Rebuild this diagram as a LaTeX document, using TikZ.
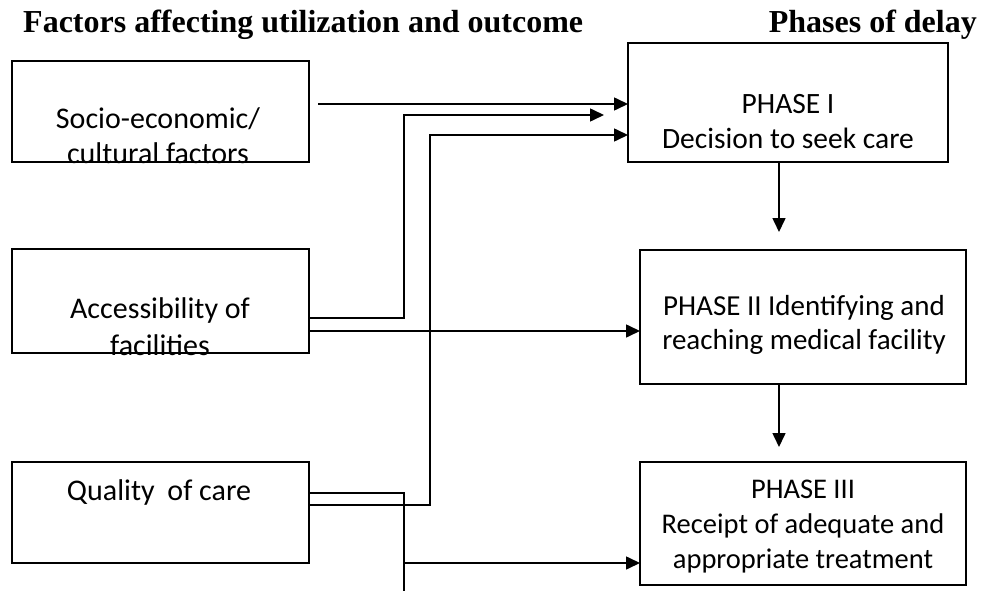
\documentclass[tikz,border=0pt]{standalone}
\usepackage{fontspec}
\setmainfont{Carlito}
\newfontfamily\titlefont{Liberation Serif}
\usetikzlibrary{arrows.meta}
\begin{document}
\begin{tikzpicture}[x=1pt,y=-1pt,
  box/.style={draw, line width=1.6pt, inner sep=0pt, outer sep=0pt, anchor=north west},
  txt/.style={align=center, anchor=base, inner sep=0pt},
  ttl/.style={font=\titlefont\bfseries\fontsize{32}{38}\selectfont, inner sep=0pt},
  conn/.style={line width=1.6pt},
  arr/.style={conn, -{Triangle[length=14pt,width=13pt]}}]
\useasboundingbox (0,0) rectangle (982,591);

% titles
\node[ttl, anchor=base west] (tl) at (23,33) {Factors affecting utilization and outcome};
\node[ttl, anchor=base east] (tr) at (977,33) {Phases of delay};

% left boxes
\node[box, minimum width=297pt, minimum height=101pt] (b1) at (12,61) {};
\node[box, minimum width=297pt, minimum height=104pt] (b2) at (12,249) {};
\node[box, minimum width=297pt, minimum height=101pt] (b3) at (12,462) {};

% right boxes
\node[box, minimum width=320pt, minimum height=119pt] (p1) at (628,43) {};
\node[box, minimum width=326pt, minimum height=134pt] (p2) at (640,250) {};
\node[box, minimum width=326pt, minimum height=123pt] (p3) at (640,462) {};

% texts (anchor = baseline of last line)
\node[txt, font=\fontsize{30}{35}\selectfont] (t1) at (158,163) {Socio-economic/\\cultural factors};
\node[txt, font=\fontsize{30}{37}\selectfont] (t2) at (160,355) {Accessibility of\\facilities};
\node[txt, font=\fontsize{30}{37}\selectfont] (t3) at (159,500) {Quality\hspace{0.2em} of care};
\node[txt, font=\fontsize{29.5}{35}\selectfont] (tp1) at (788,148) {PHASE I\\Decision to seek care};
\node[txt, font=\fontsize{29}{34}\selectfont] (tp2) at (804,349) {PHASE II Identifying and\\reaching medical facility};
\node[txt, font=\fontsize{28.5}{35}\selectfont] (tp3) at (803,568) {PHASE III\\Receipt of adequate and\\appropriate treatment};

% connectors
\coordinate (s1) at (318,104);
\coordinate (e2) at (604,115);
\coordinate (d5) at (404,591);
\coordinate (j5) at (404,563);
\coordinate (e6) at (779,232);
\coordinate (e7) at (779,447);

\draw[arr] (s1) -- (p1.west |- s1);
\draw[arr] (b2.east |- 0,318) -| (404,115) -- (e2);
\draw[arr] (b3.east |- 0,505) -| (430,135) -- (p1.west |- 0,135);
\draw[arr] (b2.east |- 0,331) -- (p2.west |- 0,331);
\draw[conn] (b3.east |- 0,493) -| (d5);
\draw[arr] (j5) -- (p3.west |- j5);
\draw[arr] (779,0 |- p1.south) -- (e6);
\draw[arr] (779,0 |- p2.south) -- (e7);
\end{tikzpicture}
\end{document}
